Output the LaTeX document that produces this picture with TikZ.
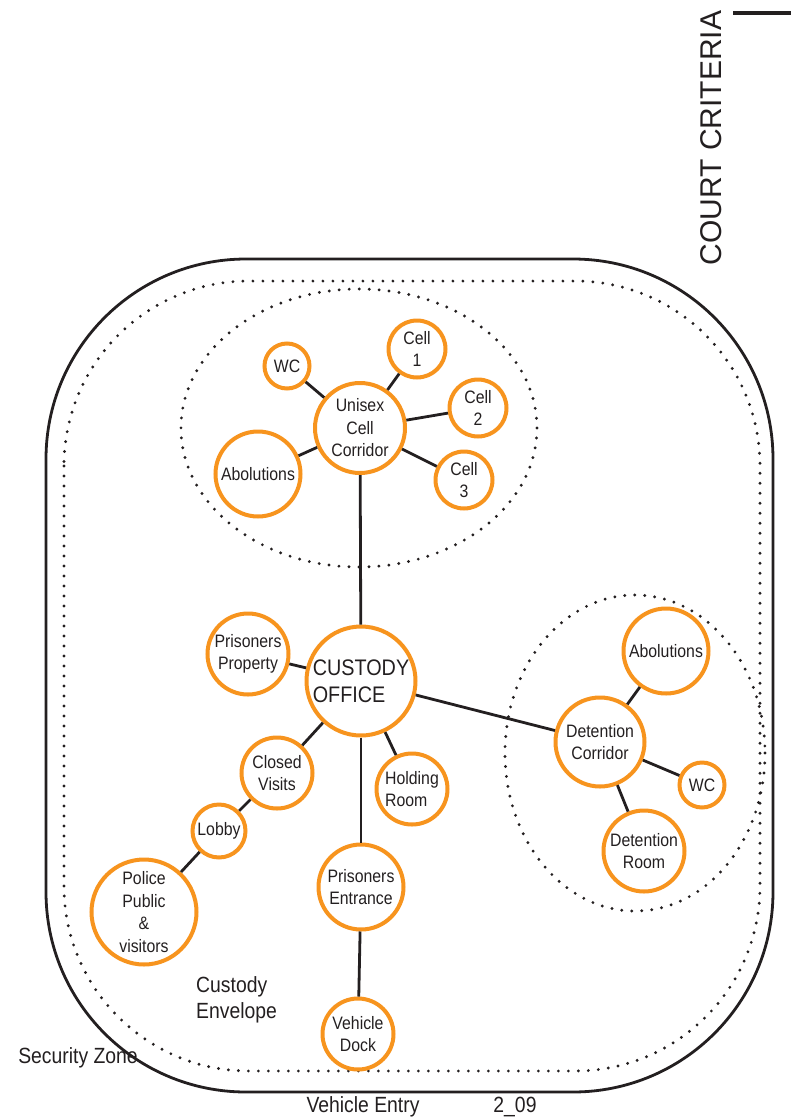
\documentclass[tikz,border=0pt]{standalone}
\usepackage{fontspec}
\setmainfont{Liberation Sans}
\newfontfamily\narrowfont{Liberation Sans}[FakeStretch=0.88]
\definecolor{zoneorange}{RGB}{247,148,30}
\definecolor{inkgray}{RGB}{35,31,32}
\tikzset{
  room/.style={circle, draw=zoneorange, line width=4pt, inner sep=0pt, align=center,
    text=inkgray, font=\narrowfont\fontsize{18}{22.5}\selectfont},
  link/.style={draw=inkgray, line width=2.8pt},
  zone/.style={draw=inkgray, line width=3.2pt, dash pattern=on 0pt off 10pt, line cap=round},
  label/.style={text=inkgray, inner sep=0pt, font=\narrowfont\fontsize{22}{26}\selectfont},
}
\begin{document}
\begin{tikzpicture}[x=1pt, y=-1pt]
	\useasboundingbox (0,0) rectangle (791,1120);

	% Titre de page
	\node[text=inkgray, inner sep=0pt, rotate=90, font=\fontsize{30}{32}\selectfont] (title) at (711,138) {COURT CRITERIA};
	\draw[inkgray, line width=4.5pt] (733,13) -- (791,13);

	% Security zone et custody envelope
	\draw[inkgray, line width=2.8pt, rounded corners=200pt] (46,259) rectangle (773,1092);
	\draw[zone, rounded corners=185pt] (64,281) rectangle (760,1071);

	% Zones des cellules et de detention
	\draw[zone] (359,428) ellipse (178 and 139);
	\draw[zone] (635,753) ellipse (130 and 158);

	% Cellules
	\node[room, minimum size=90pt] (uc) at (360,428) {Unisex\\Cell\\Corridor};
	\node[room, minimum size=45pt] (wca) at (287,366) {WC};
	\node[room, minimum size=57pt] (cell1) at (417,349) {Cell\\1};
	\node[room, minimum size=57pt] (cell2) at (478,408) {Cell\\2};
	\node[room, minimum size=57pt] (cell3) at (464,480) {Cell\\3};
	\node[room, minimum size=85pt] (abla) at (258,474) {Abolutions};

	% Custody office et pieces voisines
	\node[room, minimum size=109pt, align=left, font=\narrowfont\fontsize{22.5}{27}\selectfont] (office) at (361,681) {CUSTODY\\OFFICE};
	\node[room, minimum size=81pt] (prop) at (248,654) {Prisoners\\Property};
	\node[room, minimum size=71pt] (visits) at (277,773) {Closed\\Visits};
	\node[room, minimum size=71pt, align=left] (holding) at (412,789) {Holding\\Room};
	\node[room, minimum size=53pt] (lobby) at (219,831) {Lobby};
	\node[room, minimum size=105pt] (police) at (144,912) {Police\\Public\\\&\\visitors};
	\node[room, minimum size=85pt] (entr) at (361,887) {Prisoners\\Entrance};
	\node[room, minimum size=71pt] (dock) at (358,1034) {Vehicle\\Dock};

	% Detention
	\node[room, minimum size=89pt] (dcorr) at (600,742) {Detention\\Corridor};
	\node[room, minimum size=85pt] (ablb) at (666,651) {Abolutions};
	\node[room, minimum size=45pt] (wcb) at (702,785) {WC};
	\node[room, minimum size=81pt] (droom) at (644,851) {Detention\\Room};

	% Liaisons
	\draw[link] (uc) -- (wca);
	\draw[link] (uc) -- (cell1);
	\draw[link] (uc) -- (cell2);
	\draw[link] (uc) -- (cell3);
	\draw[link] (uc) -- (abla);
	\draw[link] (uc) -- (office);
	\draw[link] (office) -- (prop);
	\draw[link] (office) -- (visits);
	\draw[link] (office) -- (holding);
	\draw[link] (office) -- (entr);
	\draw[link] (office) -- (dcorr);
	\draw[link] (visits) -- (lobby);
	\draw[link] (lobby) -- (police);
	\draw[link] (entr) -- (dock);
	\draw[link] (dcorr) -- (ablb);
	\draw[link] (dcorr) -- (wcb);
	\draw[link] (dcorr) -- (droom);

	% Textes
	\node[label, anchor=west, align=left] (envelope) at (196,1000) {Custody\\Envelope};
	\node[label] (security) at (78,1058) {Security Zone};
	\node[label] (entry) at (363,1107) {Vehicle Entry};
	\node[label] (sheet) at (515,1107) {2\_09};

\end{tikzpicture}
\end{document}
